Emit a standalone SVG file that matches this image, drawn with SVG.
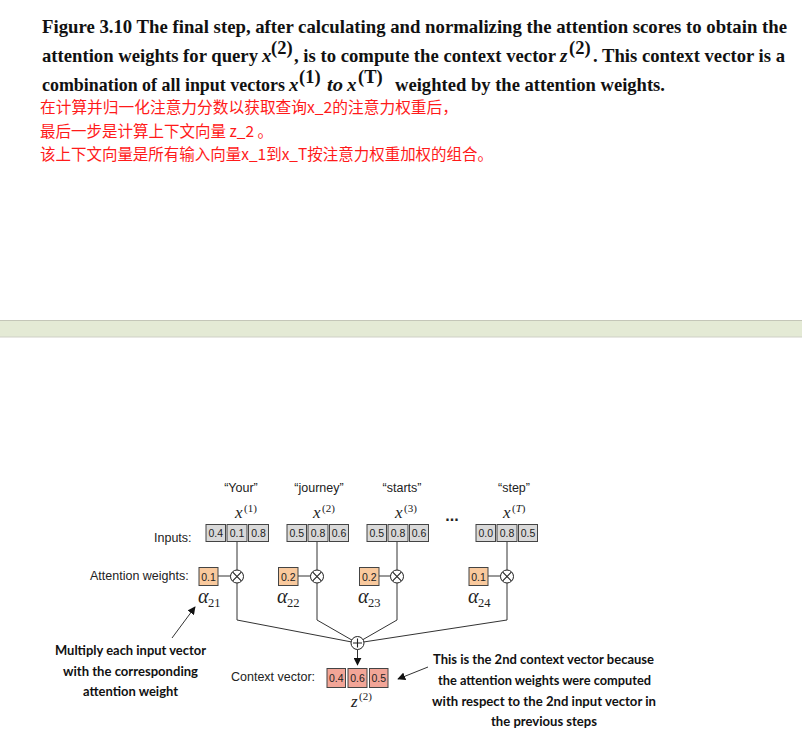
<svg xmlns="http://www.w3.org/2000/svg" width="802" height="743" viewBox="0 0 802 743">
<defs>
<style>
.cap{font-family:"Liberation Serif",serif;font-weight:bold;font-size:19px;fill:#111}
.capi{font-family:"Liberation Serif",serif;font-weight:bold;font-style:italic;font-size:19px;fill:#111}
.sup{font-family:"Liberation Serif",serif;font-weight:bold;font-style:normal;font-size:18.5px;fill:#111}
.zh{font-family:"Noto Sans CJK SC","Noto Sans",sans-serif;font-size:15.5px;fill:#ff1a1a}
.lbl{font-family:"Liberation Sans",Arial,sans-serif;font-size:12.5px;fill:#222}
.num{font-family:"Liberation Sans",Arial,sans-serif;font-size:10.5px;fill:#222;text-anchor:middle}
.var{font-family:"Liberation Serif",serif;font-style:italic;font-size:17px;fill:#222}
.alpha{font-family:"Liberation Serif",serif;font-style:italic;font-size:20px;fill:#222}
.vsub{font-family:"Liberation Serif",serif;font-style:normal;font-size:11px;fill:#222}
.asub{font-family:"Liberation Serif",serif;font-style:normal;font-size:12.5px;fill:#222}
.note{font-family:Lato,"Open Sans",sans-serif;font-weight:bold;font-size:13px;fill:#111;text-anchor:middle}
.inbox{fill:#d9d9d9;stroke:#444;stroke-width:1}
.wbox{fill:#f9c99d;stroke:#444;stroke-width:1}
.cbox{fill:#f2a597;stroke:#444;stroke-width:1}
.op{fill:#fff;stroke:#222;stroke-width:1}
.opl{stroke:#222;stroke-width:1.1;fill:none}
.wire{stroke:#333;stroke-width:1;fill:none}
</style>
<marker id="ah" viewBox="0 0 10 10" refX="9" refY="5" markerWidth="8" markerHeight="8" orient="auto" markerUnits="userSpaceOnUse">
<path d="M0 0 L10 5 L0 10 z" fill="#111"/>
</marker>
</defs>
<rect width="802" height="743" fill="#fff"/>

<g id="caption">
<text class="cap" x="42" y="33" textLength="745" lengthAdjust="spacingAndGlyphs">Figure 3.10 The final step, after calculating and normalizing the attention scores to obtain the</text>
<text class="cap" x="42" y="62" textLength="216" lengthAdjust="spacingAndGlyphs">attention weights for query</text>
<text class="capi" x="262" y="62">x<tspan class="sup" x="271" y="54">(2)</tspan></text>
<text class="cap" x="294" y="62" textLength="262" lengthAdjust="spacingAndGlyphs">, is to compute the context vector</text>
<text class="capi" x="560" y="62">z<tspan class="sup" x="569" y="54">(2)</tspan></text>
<text class="cap" x="593" y="62" textLength="192" lengthAdjust="spacingAndGlyphs">. This context vector is a</text>
<text class="cap" x="42" y="91" style="font-size:17.8px" textLength="243" lengthAdjust="spacingAndGlyphs">combination of all input vectors</text>
<text class="capi" x="289" y="91">x<tspan class="sup" x="299" y="83">(1)</tspan></text>
<text class="capi" x="327" y="91" textLength="16" lengthAdjust="spacingAndGlyphs">to</text>
<text class="capi" x="347" y="91">x<tspan class="sup" x="358" y="83">(T)</tspan></text>
<text class="cap" x="395" y="91" textLength="270" lengthAdjust="spacingAndGlyphs">weighted by the attention weights.</text>
<text class="zh" x="40" y="113" textLength="418" lengthAdjust="spacingAndGlyphs">在计算并归一化注意力分数以获取查询x_2的注意力权重后，</text>
<text class="zh" x="40" y="137">最后一步是计算上下文向量 z_2 。</text>
<text class="zh" x="40" y="160" textLength="453" lengthAdjust="spacingAndGlyphs">该上下文向量是所有输入向量x_1到x_T按注意力权重加权的组合。</text>
</g>

<g id="band">
<rect x="0" y="320" width="802" height="17" fill="#e4ead5"/>
<line x1="0" y1="320.5" x2="802" y2="320.5" stroke="#c4c6b8"/>
<line x1="0" y1="337" x2="802" y2="337" stroke="#cfd0c6"/>
</g>

<g id="connectors">
<path class="wire" d="M237 541 V620 L357 643"/>
<path class="wire" d="M317 541 V620 L357 643"/>
<path class="wire" d="M397 541 V620 L357 643"/>
<path class="wire" d="M507 541 V620 L357 643"/>
<path class="wire" d="M218 576 H237"/>
<path class="wire" d="M298 576 H317"/>
<path class="wire" d="M379 576 H397"/>
<path class="wire" d="M488 576 H507"/>
<path class="wire" d="M357.5 649.5 V665" marker-end="url(#ah)"/>
<path class="wire" stroke-width="1.7" d="M172 638 L195 607" marker-end="url(#ah)"/>
<path class="wire" stroke-width="1.4" d="M428 667 L398 679" marker-end="url(#ah)"/>
</g>

<g id="tokens">
<text class="lbl" x="241" y="492" text-anchor="middle">“Your”</text>
<text class="lbl" x="319" y="492" text-anchor="middle">“journey”</text>
<text class="lbl" x="402" y="492" text-anchor="middle">“starts”</text>
<text class="lbl" x="514" y="492" text-anchor="middle">“step”</text>
<text class="var" x="235" y="518">x<tspan class="vsub" x="244" y="512">(1)</tspan></text>
<text class="var" x="313" y="518">x<tspan class="vsub" x="322" y="512">(2)</tspan></text>
<text class="var" x="395" y="518">x<tspan class="vsub" x="404" y="512">(3)</tspan></text>
<text class="var" x="503" y="518">x<tspan class="vsub" x="512" y="512">(<tspan font-style="italic">T</tspan>)</tspan></text>
<text x="452" y="521" text-anchor="middle" font-family="Liberation Sans,Arial,sans-serif" font-weight="bold" font-size="16" fill="#222">...</text>
</g>

<g id="inputs">
<text class="lbl" x="154" y="542">Inputs:</text>
<rect class="inbox" x="206" y="524.5" width="19.5" height="17"/><text class="num" x="215.7" y="537">0.4</text>
<rect class="inbox" x="227" y="524.5" width="20" height="17"/><text class="num" x="237" y="537">0.1</text>
<rect class="inbox" x="248.5" y="524.5" width="20" height="17"/><text class="num" x="258.5" y="537">0.8</text>
<rect class="inbox" x="287" y="524.5" width="19.5" height="17"/><text class="num" x="296.7" y="537">0.5</text>
<rect class="inbox" x="308" y="524.5" width="20" height="17"/><text class="num" x="318" y="537">0.8</text>
<rect class="inbox" x="329.5" y="524.5" width="19" height="17"/><text class="num" x="339" y="537">0.6</text>
<rect class="inbox" x="367" y="524.5" width="19.5" height="17"/><text class="num" x="376.7" y="537">0.5</text>
<rect class="inbox" x="388" y="524.5" width="20" height="17"/><text class="num" x="398" y="537">0.8</text>
<rect class="inbox" x="409.5" y="524.5" width="19" height="17"/><text class="num" x="419" y="537">0.6</text>
<rect class="inbox" x="476" y="524.5" width="19.5" height="17"/><text class="num" x="485.7" y="537">0.0</text>
<rect class="inbox" x="497" y="524.5" width="20" height="17"/><text class="num" x="507" y="537">0.8</text>
<rect class="inbox" x="518.5" y="524.5" width="19" height="17"/><text class="num" x="528" y="537">0.5</text>
</g>

<g id="weights">
<text class="lbl" x="90" y="580">Attention weights:</text>
<rect class="wbox" x="199" y="567.5" width="19" height="18"/><text class="num" x="208.5" y="580.5">0.1</text>
<rect class="wbox" x="278.5" y="567.5" width="19.5" height="18"/><text class="num" x="288.2" y="580.5">0.2</text>
<rect class="wbox" x="359.5" y="567.5" width="19.5" height="18"/><text class="num" x="369.2" y="580.5">0.2</text>
<rect class="wbox" x="469" y="567.5" width="19" height="18"/><text class="num" x="478.5" y="580.5">0.1</text>
<text class="alpha" x="198" y="603">α<tspan class="asub" x="208" y="607">21</tspan></text>
<text class="alpha" x="277" y="603">α<tspan class="asub" x="287" y="607">22</tspan></text>
<text class="alpha" x="358" y="603">α<tspan class="asub" x="368" y="607">23</tspan></text>
<text class="alpha" x="468" y="603">α<tspan class="asub" x="478" y="607">24</tspan></text>
</g>

<g id="multiply">
<g transform="translate(237 576.5)"><circle class="op" r="6.5"/><path class="opl" d="M-4.3 -4.3 L4.3 4.3 M-4.3 4.3 L4.3 -4.3"/></g>
<g transform="translate(317 576.5)"><circle class="op" r="6.5"/><path class="opl" d="M-4.3 -4.3 L4.3 4.3 M-4.3 4.3 L4.3 -4.3"/></g>
<g transform="translate(397 576.5)"><circle class="op" r="6.5"/><path class="opl" d="M-4.3 -4.3 L4.3 4.3 M-4.3 4.3 L4.3 -4.3"/></g>
<g transform="translate(507 576.5)"><circle class="op" r="6.5"/><path class="opl" d="M-4.3 -4.3 L4.3 4.3 M-4.3 4.3 L4.3 -4.3"/></g>
</g>

<g id="sum">
<g transform="translate(357.5 643)"><circle class="op" r="6.5"/><path class="opl" d="M-4.5 0 H4.5 M0 -4.5 V4.5"/></g>
</g>

<g id="context">
<text class="lbl" x="231" y="681">Context vector:</text>
<rect class="cbox" x="327" y="668.5" width="18.5" height="19"/><text class="num" x="336.2" y="681.5">0.4</text>
<rect class="cbox" x="348" y="668.5" width="19" height="19"/><text class="num" x="357.5" y="681.5">0.6</text>
<rect class="cbox" x="369.5" y="668.5" width="18.5" height="19"/><text class="num" x="378.7" y="681.5">0.5</text>
<text class="var" x="351" y="707">z<tspan class="vsub" x="359" y="700">(2)</tspan></text>
</g>

<g id="note-left">
<text class="note" x="130.5" y="655" textLength="151" lengthAdjust="spacingAndGlyphs">Multiply each input vector</text>
<text class="note" x="130.5" y="676" textLength="135" lengthAdjust="spacingAndGlyphs">with the corresponding</text>
<text class="note" x="130.5" y="696" textLength="95" lengthAdjust="spacingAndGlyphs">attention weight</text>
</g>

<g id="note-right">
<text class="note" x="543.5" y="664" textLength="221" lengthAdjust="spacingAndGlyphs">This is the 2nd context vector because</text>
<text class="note" x="544.5" y="685" textLength="213" lengthAdjust="spacingAndGlyphs">the attention weights were computed</text>
<text class="note" x="544" y="706" textLength="224" lengthAdjust="spacingAndGlyphs">with respect to the 2nd input vector in</text>
<text class="note" x="544" y="726" textLength="106" lengthAdjust="spacingAndGlyphs">the previous steps</text>
</g>
</svg>
